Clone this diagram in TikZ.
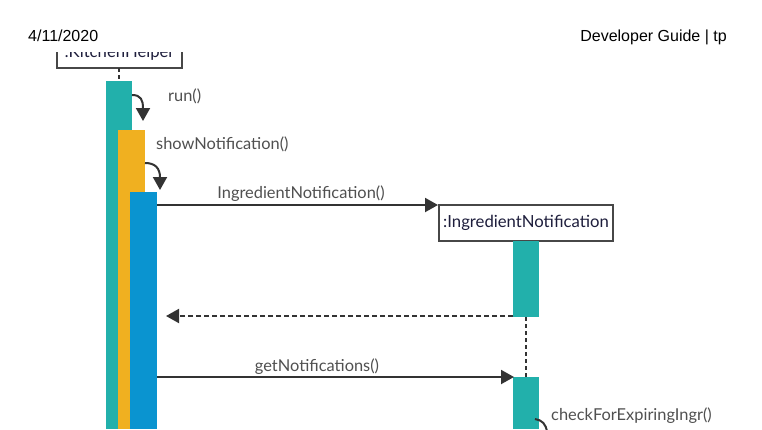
\documentclass[tikz,border=0pt]{standalone}
\usepackage{fontspec}
\setmainfont{Lato}
\newfontfamily\hdrfont{Liberation Sans}
\usetikzlibrary{arrows.meta}
\definecolor{tealc}{RGB}{34,176,171}
\definecolor{yellowc}{RGB}{240,176,32}
\definecolor{bluec}{RGB}{10,148,208}
\definecolor{linec}{RGB}{51,51,51}
\definecolor{labelc}{RGB}{80,80,80}
\definecolor{navyc}{RGB}{30,30,60}
\tikzset{
  msg/.style={draw=linec, line width=2pt, -{Triangle[length=13pt,width=14pt]}},
  ret/.style={msg, dashed, dash pattern=on 5pt off 3pt},
  life/.style={draw=linec, line width=1.5pt, dash pattern=on 4pt off 3pt},
  lbl/.style={text=labelc, font=\fontsize{16.4}{19}\selectfont, inner sep=0pt, anchor=base},
  objbox/.style={draw=linec!90, line width=2pt, fill=white, text=navyc, font=\fontsize{16.7}{19}\selectfont, inner sep=0pt},
  hdr/.style={font=\hdrfont\fontsize{16}{19}\selectfont, inner sep=0pt, anchor=base}
}
\begin{document}
\begin{tikzpicture}[x=1pt,y=-1pt]
\useasboundingbox (0,0) rectangle (762,429);
\fill[white] (0,0) rectangle (762,429);
\begin{scope}
\clip (0,0) rectangle (762,429);
% header
\node[hdr, anchor=base west] (date) at (28,41) {4/11/2020};
\node[hdr, anchor=base east] (title) at (727,41) {Developer Guide | tp};
% KitchenHelper box (clipped at top)
\begin{scope}
\clip (0,52) rectangle (762,429);
\draw[draw=linec!90, line width=2pt, fill=white] (57,28) rectangle (182,68);
\node[objbox, draw=none, fill=none, anchor=base] (kh) at (119.5,57) {:KitchenHelper};
\end{scope}
\coordinate (khb) at (119,68);
\coordinate (khbar) at (119,81);
\draw[life] (khb) -- (khbar);
% activation bars
\fill[tealc] (106,81) rectangle (132,429);
\fill[yellowc] (118,130) rectangle (145,429);
\fill[bluec] (130,192) rectangle (157,429);
% run()
\coordinate (r1) at (132,95);
\coordinate (r2) at (143,121);
\draw[msg] (r1) .. controls (141,95) and (143,100) .. (r2);
\node[lbl, anchor=base west] (run) at (168,101) {run()};
% showNotification()
\coordinate (s1) at (145,163);
\coordinate (s2) at (160,190);
\draw[msg] (s1) .. controls (155,163) and (160,168) .. (s2);
\node[lbl, anchor=base west] (show) at (156,149) {showNotification()};
% IngredientNotification object
\node[objbox, minimum width=174pt, minimum height=36pt] (in) at (526,223) {:IngredientNotification};
\coordinate (b1) at (157,205);
\draw[msg] (b1) -- (in.west |- b1);
\node[lbl] (inl) at (301,198) {IngredientNotification()};
% second object bars
\fill[tealc] (513,241) rectangle (539,317);
\coordinate (rt1) at (513,316);
\coordinate (rt2) at (166,316);
\draw[ret] (rt1) -- (rt2);
\coordinate (l1) at (526,317);
\coordinate (l2) at (526,377);
\draw[life] (l1) -- (l2);
\fill[tealc] (513,377) rectangle (539,429);
\coordinate (g1) at (157,377);
\coordinate (g2) at (514,377);
\draw[msg] (g1) -- (g2);
\node[lbl] (gn) at (317,371) {getNotifications()};
\node[lbl, anchor=base west] (chk) at (551,420) {checkForExpiringIngr()};
\coordinate (c1) at (535,419);
\draw[draw=linec, line width=2pt] (c1) .. controls (542,420) and (546,424) .. (547,432);
\end{scope}
\end{tikzpicture}
\end{document}
